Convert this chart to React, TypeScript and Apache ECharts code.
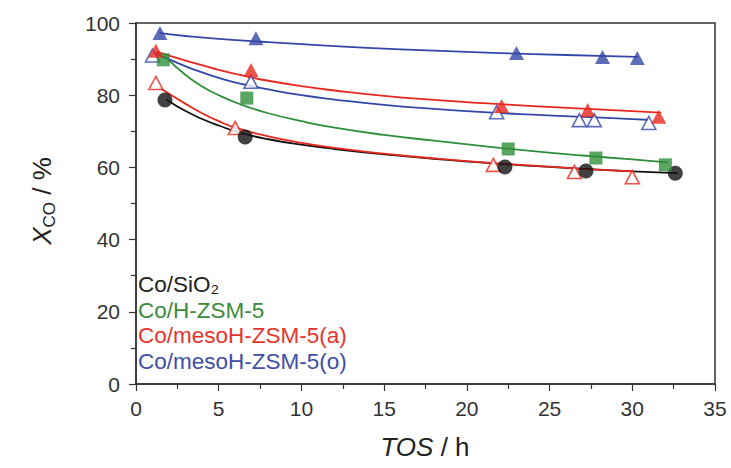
import React, { useEffect, useRef } from "react";
import * as echarts from "echarts";

const FONT = "'Liberation Sans', Arial, Helvetica, sans-serif";

const legendNames = ["Co/SiO₂", "Co/H-ZSM-5", "Co/mesoH-ZSM-5(a)", "Co/mesoH-ZSM-5(o)"];
const seriesColors = ["#111111", "#2f8f3a", "#e8281e", "#3347a8"];
const legendColors = ["#222222", "#3c8a3c", "#e8332a", "#3e4ea6"];

// measured points (TOS h, X_CO %)
const siO2X = [1.75, 6.6, 22.3, 27.2, 32.6];
const siO2Y = [78.7, 68.4, 60.1, 59.0, 58.4];
const hzsmX = [1.65, 6.7, 22.5, 27.8, 32.0];
const hzsmY = [89.8, 79.2, 65.1, 62.6, 60.7];
const mesoAX = [1.2, 6.95, 22.1, 27.3, 31.6];
const mesoAY = [92.3, 87.0, 77.0, 75.9, 74.0];
const mesoAOpenX = [1.2, 6.0, 21.6, 26.5, 30.0];
const mesoAOpenY = [83.4, 70.9, 60.7, 58.7, 57.3];
const mesoOX = [1.45, 7.25, 23.0, 28.2, 30.3];
const mesoOY = [97.2, 95.8, 91.7, 90.6, 90.3];
const mesoOOpenX = [1.0, 6.95, 21.8, 26.8, 27.7, 31.0];
const mesoOOpenY = [91.0, 83.7, 75.3, 73.1, 73.1, 72.3];

// fitted curves
const fitSiO2X = [1.87, 3, 4, 5, 6.3, 8, 10, 12, 15, 18, 21, 24, 27, 30, 32.7];
const fitSiO2Y = [78.7, 75.6, 73.4, 71.6, 69.6, 67.8, 66.3, 65.1, 63.6, 62.4, 61.3, 60.4, 59.6, 58.9, 58.4];
const fitHzsmX = [1.75, 3, 4, 5, 6.3, 8, 10, 12, 15, 18, 21, 24, 27, 30, 32.1];
const fitHzsmY = [90.7, 85.6, 82.4, 80.0, 77.5, 75.0, 72.8, 71.0, 69.0, 67.4, 65.9, 64.5, 63.3, 62.2, 61.4];
const fitMesoAX = [1.27, 3, 4, 5, 6.3, 8, 10, 12, 15, 18, 21, 24, 27, 30, 31.7];
const fitMesoAY = [92.0, 89.6, 88.3, 87.0, 85.6, 84.0, 82.5, 81.3, 79.8, 78.7, 77.8, 77.0, 76.3, 75.6, 75.2];
const fitMesoAOpenX = [1.45, 3, 4, 5, 6, 8, 10, 12, 15, 18, 21, 24, 27, 30];
const fitMesoAOpenY = [82.0, 77.6, 75.0, 72.8, 71.0, 68.6, 66.8, 65.4, 63.8, 62.5, 61.4, 60.5, 59.6, 58.9];
const fitMesoOX = [1.45, 3, 5, 8, 12, 16, 20, 24, 28, 30.3];
const fitMesoOY = [97.2, 96.4, 95.6, 94.7, 93.6, 92.7, 92.0, 91.4, 90.9, 90.6];
const fitMesoOOpenX = [1.2, 3, 4, 5, 6.3, 8, 10, 12, 15, 18, 21, 24, 27, 30, 30.9];
const fitMesoOOpenY = [91.5, 88.0, 86.3, 84.8, 83.2, 81.6, 80.0, 78.8, 77.3, 76.2, 75.3, 74.6, 74.0, 73.4, 73.2];

const xTicks = { min: 0, max: 35, interval: 5 };
const yTicks = { min: 0, max: 100, interval: 20 };

const zip = (xs: number[], ys: number[]) => xs.map((x, i) => [x, ys[i]]);

export default function App() {
  const ref = useRef<HTMLDivElement>(null);
  useEffect(() => {
    document.body.style.margin = "0";
    const chart = echarts.init(ref.current!, null, { renderer: "svg" });

    const fit = (name: string, xs: number[], ys: number[], color: string) => ({
      name,
      type: "line",
      data: zip(xs, ys),
      smooth: 0.5,
      showSymbol: false,
      symbol: "none",
      lineStyle: { color, width: 1.8, cap: "round", join: "round" },
      itemStyle: { color },
      z: 2,
      silent: true,
    });
    const pts = (
      name: string,
      xs: number[],
      ys: number[],
      symbol: string,
      size: any,
      color: string,
      open = false
    ) => ({
      name,
      type: "scatter",
      data: zip(xs, ys),
      symbol,
      symbolSize: size,
      itemStyle: open
        ? { color: "#ffffff", borderColor: color, borderWidth: 1.6 }
        : { color, borderColor: color, borderWidth: 0 },
      z: 3,
    });

    chart.setOption({
      animation: false,
      backgroundColor: "#ffffff",
      grid: {
        left: 136,
        right: 16,
        top: 23,
        bottom: 84,
        show: true,
        borderColor: "#333333",
        borderWidth: 1.5,
        backgroundColor: "transparent",
      },
      xAxis: {
        type: "value",
        min: xTicks.min,
        max: xTicks.max,
        interval: xTicks.interval,
        axisLine: { show: true, lineStyle: { color: "#333333", width: 1.5 } },
        axisTick: { show: true, length: 7, lineStyle: { color: "#333333", width: 1.2 } },
        minorTick: { show: true, splitNumber: 2, length: 5, lineStyle: { color: "#333333", width: 1.2 } },
        splitLine: { show: false },
        axisLabel: { color: "#333333", fontSize: 21, fontFamily: FONT, margin: 14 },
      },
      yAxis: {
        type: "value",
        min: yTicks.min,
        max: yTicks.max,
        interval: yTicks.interval,
        axisLine: { show: true, lineStyle: { color: "#333333", width: 1.5 } },
        axisTick: { show: true, length: 7, lineStyle: { color: "#333333", width: 1.2 } },
        minorTick: { show: true, splitNumber: 2, length: 5, lineStyle: { color: "#333333", width: 1.2 } },
        splitLine: { show: false },
        axisLabel: { color: "#333333", fontSize: 21, fontFamily: FONT, margin: 16 },
      },
      legend: {
        orient: "vertical",
        left: 133,
        top: 272,
        padding: 0,
        itemGap: 0,
        itemWidth: 0,
        itemHeight: 0,
        icon: "rect",
        itemStyle: { opacity: 0 },
        lineStyle: { opacity: 0 },
        textStyle: { fontSize: 22.5, fontFamily: FONT, lineHeight: 25.5 },
        data: legendNames.map((n, i) => ({ name: n, textStyle: { color: legendColors[i] } })),
        selectedMode: false,
      },
      graphic: [
        {
          type: "text",
          x: 425,
          y: 447,
          style: {
            text: "{i|TOS} / h",
            align: "center",
            verticalAlign: "middle",
            font: `26px ${FONT}`,
            fill: "#222222",
            rich: {
              i: { fontStyle: "italic", fontSize: 26, fontFamily: FONT, fill: "#222222" },
            },
          },
        },
        {
          type: "text",
          x: 42,
          y: 201,
          rotation: Math.PI / 2,
          style: {
            text: "{x|X}{s|CO}{n| / %}",
            align: "center",
            verticalAlign: "middle",
            font: `26px ${FONT}`,
            fill: "#222222",
            rich: {
              x: { fontStyle: "italic", fontSize: 26, lineHeight: 32, fontFamily: FONT, fill: "#222222" },
              s: { fontSize: 17, lineHeight: 20, verticalAlign: "bottom", fontFamily: FONT, fill: "#222222" },
              n: { fontSize: 26, lineHeight: 32, fontFamily: FONT, fill: "#222222" },
            },
          },
        },
      ],
      series: [
        fit(legendNames[0], fitSiO2X, fitSiO2Y, seriesColors[0]),
        fit(legendNames[1], fitHzsmX, fitHzsmY, seriesColors[1]),
        fit(legendNames[2], fitMesoAX, fitMesoAY, seriesColors[2]),
        fit("Co/mesoH-ZSM-5(a) open fit", fitMesoAOpenX, fitMesoAOpenY, seriesColors[2]),
        fit(legendNames[3], fitMesoOX, fitMesoOY, seriesColors[3]),
        fit("Co/mesoH-ZSM-5(o) open fit", fitMesoOOpenX, fitMesoOOpenY, seriesColors[3]),
        pts("Co/mesoH-ZSM-5(o) open", mesoOOpenX, mesoOOpenY, "triangle", [14, 13], seriesColors[3], true),
        pts("Co/mesoH-ZSM-5(a) open", mesoAOpenX, mesoAOpenY, "triangle", [14, 13], seriesColors[2], true),
        pts(legendNames[0], siO2X, siO2Y, "circle", 15, seriesColors[0]),
        pts(legendNames[1], hzsmX, hzsmY, "rect", 13, seriesColors[1]),
        pts(legendNames[2], mesoAX, mesoAY, "triangle", [15, 14], seriesColors[2]),
        pts(legendNames[3], mesoOX, mesoOY, "triangle", [15, 14], seriesColors[3]),
      ],
    });
    return () => chart.dispose();
  }, []);
  return <div ref={ref} style={{ width: 731, height: 468 }} />;
}
